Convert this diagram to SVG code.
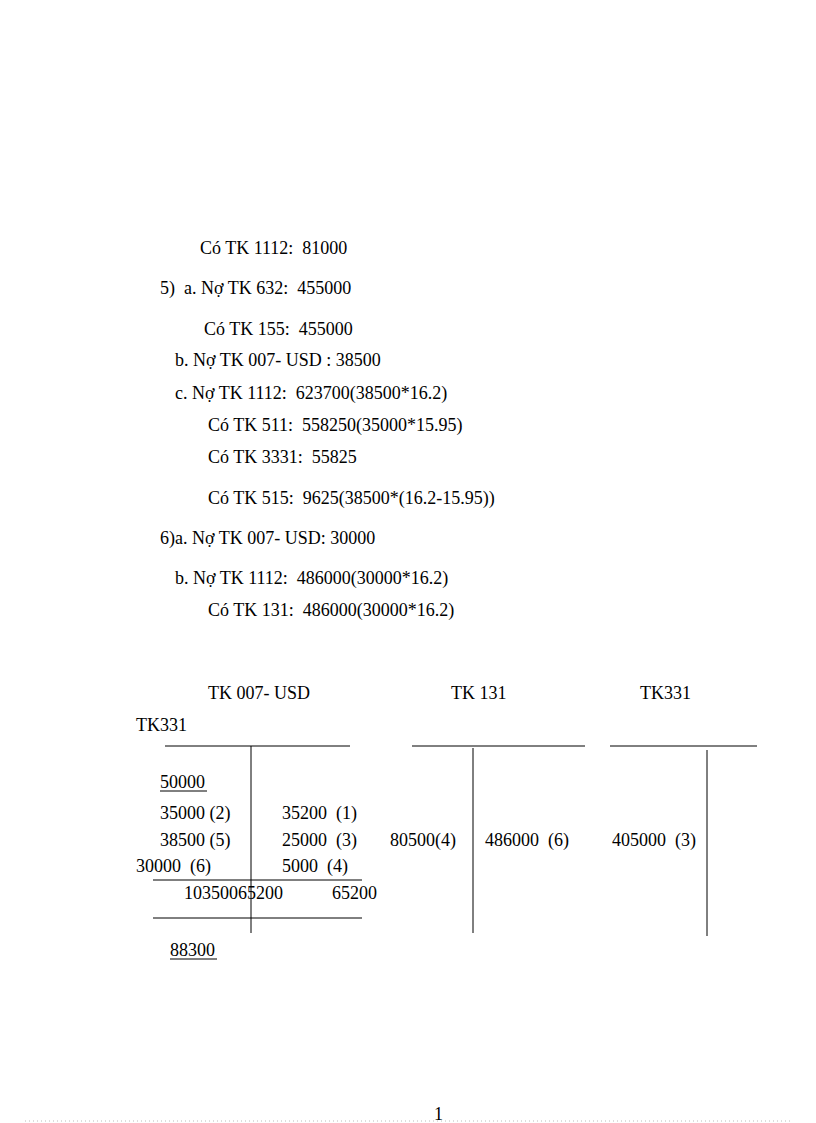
<svg xmlns="http://www.w3.org/2000/svg" width="816" height="1123" viewBox="0 0 816 1123" xml:space="preserve">
<style>
text{font-family:'Liberation Serif','DejaVu Serif',serif;font-size:18px;fill:#000;white-space:pre}
line{stroke:#000;stroke-width:1}
</style>
<rect width="816" height="1123" fill="#fff"/>
<text x="200" y="254">Có TK 1112:  81000</text>
<text x="160" y="294">5)  a. Nợ TK 632:  455000</text>
<text x="204" y="335">Có TK 155:  455000</text>
<text x="175" y="366">b. Nợ TK 007- USD : 38500</text>
<text x="175" y="399">c. Nợ TK 1112:  623700(38500*16.2)</text>
<text x="208" y="431">Có TK 511:  558250(35000*15.95)</text>
<text x="208" y="463">Có TK 3331:  55825</text>
<text x="208" y="504">Có TK 515:  9625(38500*(16.2-15.95))</text>
<text x="160" y="544">6)a. Nợ TK 007- USD: 30000</text>
<text x="175" y="584">b. Nợ TK 1112:  486000(30000*16.2)</text>
<text x="208" y="616">Có TK 131:  486000(30000*16.2)</text>
<text x="208" y="699">TK 007- USD</text>
<text x="451" y="699">TK 131</text>
<text x="640" y="699">TK331</text>
<text x="136" y="731">TK331</text>
<g>
<line x1="165" y1="746" x2="350" y2="746"/>
<line x1="412" y1="746" x2="585" y2="746"/>
<line x1="610" y1="746" x2="757" y2="746"/>
<line x1="251" y1="746" x2="251" y2="933"/>
<line x1="473" y1="748" x2="473" y2="933"/>
<line x1="707" y1="750" x2="707" y2="936"/>
<line x1="153" y1="880" x2="362" y2="880"/>
<line x1="153" y1="918" x2="362" y2="918"/>
<line x1="160" y1="791" x2="207" y2="791"/>
<line x1="170" y1="959" x2="217" y2="959"/>
</g>
<text x="160" y="788">50000</text>
<text x="160" y="819">35000 (2)</text>
<text x="282" y="819">35200  (1)</text>
<text x="160" y="846">38500 (5)</text>
<text x="282" y="846">25000  (3)</text>
<text x="390" y="846">80500(4)</text>
<text x="485" y="846">486000  (6)</text>
<text x="612" y="846">405000  (3)</text>
<text x="136" y="872">30000  (6)</text>
<text x="282" y="872">5000  (4)</text>
<text x="184" y="899">10350065200</text>
<text x="332" y="899">65200</text>
<text x="170" y="956">88300</text>
<text x="434" y="1120">1</text>
<line x1="25" y1="1121" x2="790" y2="1121" stroke-dasharray="1,3" style="stroke:#bbb"/>
</svg>
